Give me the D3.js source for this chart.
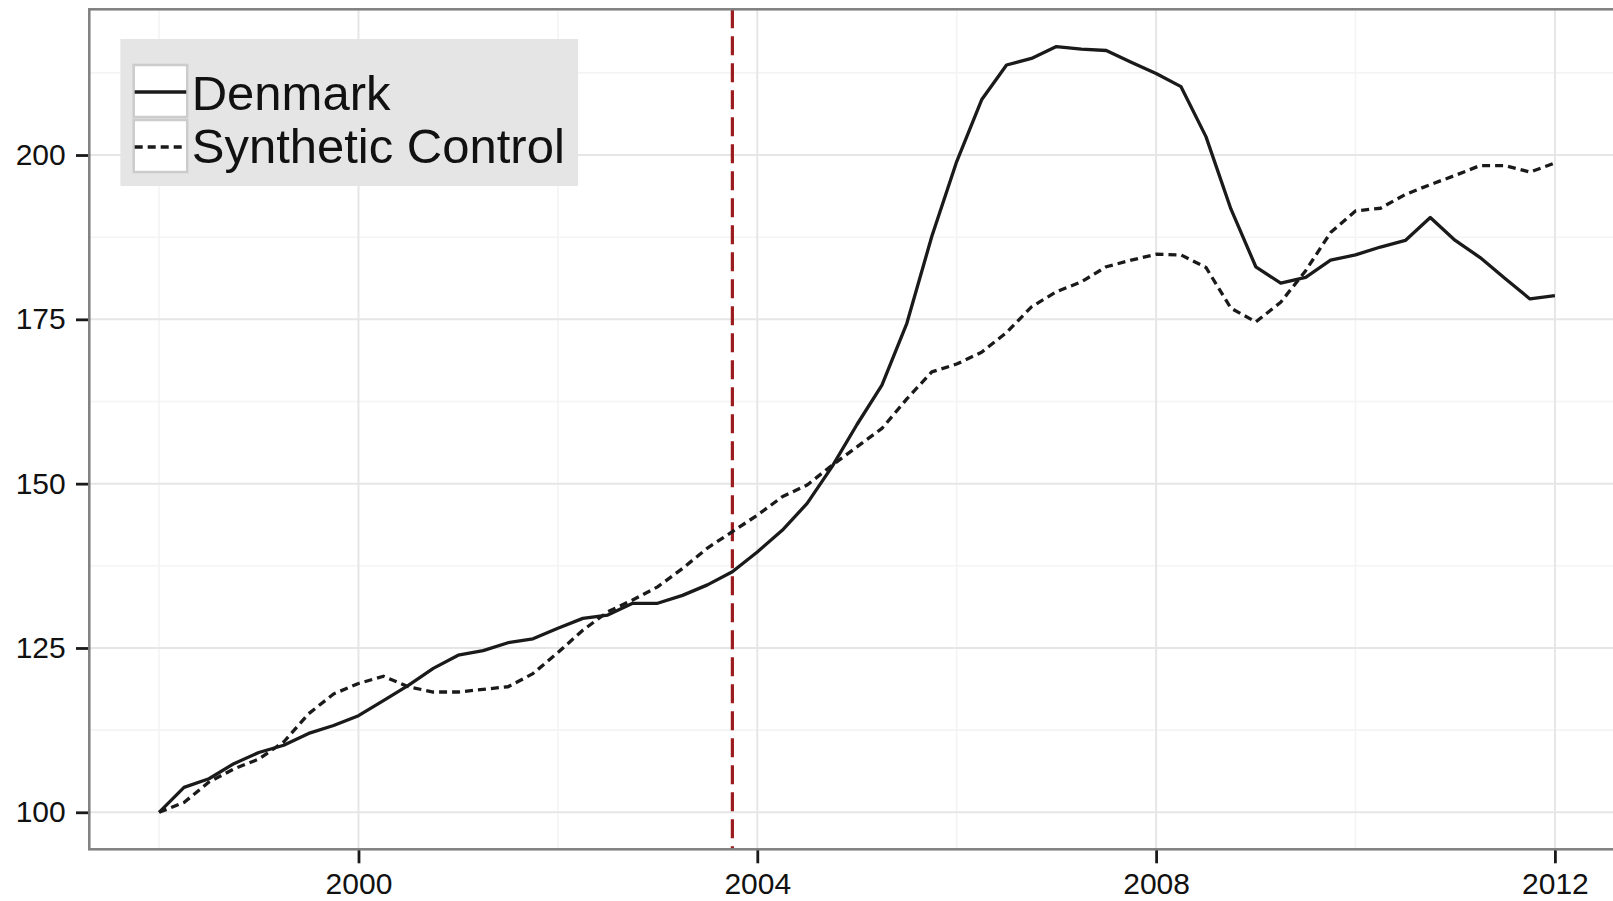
<!DOCTYPE html>
<html>
<head>
<meta charset="utf-8">
<script src="https://cdn.jsdelivr.net/npm/d3@7"></script>
<style>
  html, body { margin: 0; padding: 0; background: #fff; }
  text { font-family: "Liberation Sans", Arial, sans-serif; }
</style>
</head>
<body>
<div id="chart"></div>
<script>
// --------------------------------------
//  Data
// --------------------------------------

const quarters = [
  "1998Q1","1998Q2","1998Q3","1998Q4","1999Q1","1999Q2","1999Q3","1999Q4",
  "2000Q1","2000Q2","2000Q3","2000Q4","2001Q1","2001Q2","2001Q3","2001Q4",
  "2002Q1","2002Q2","2002Q3","2002Q4","2003Q1","2003Q2","2003Q3","2003Q4",
  "2004Q1","2004Q2","2004Q3","2004Q4","2005Q1","2005Q2","2005Q3","2005Q4",
  "2006Q1","2006Q2","2006Q3","2006Q4","2007Q1","2007Q2","2007Q3","2007Q4",
  "2008Q1","2008Q2","2008Q3","2008Q4","2009Q1","2009Q2","2009Q3","2009Q4",
  "2010Q1","2010Q2","2010Q3","2010Q4","2011Q1","2011Q2","2011Q3","2011Q4",
  "2012Q1"
];

const denmark = [
  100.0, 103.8, 105.1, 107.4, 109.1, 110.2, 112.0, 113.2,
  114.7, 117.0, 119.3, 121.9, 123.9, 124.6, 125.8, 126.4,
  128.0, 129.5, 130.0, 131.8, 131.8, 133.0, 134.6, 136.6,
  139.6, 142.9, 147.0, 152.6, 159.0, 165.0, 174.4, 187.6,
  199.0, 208.4, 213.7, 214.7, 216.5, 216.1, 215.9, 214.1,
  212.4, 210.4, 202.8, 191.8, 183.0, 180.5, 181.4, 184.0,
  184.8, 186.0, 187.0, 190.5, 187.0, 184.4, 181.2, 178.1,
  178.6
];

const synthetic = [
  100.0, 101.5, 104.6, 106.6, 108.1, 110.7, 115.0, 118.0,
  119.6, 120.7, 119.1, 118.3, 118.3, 118.7, 119.1, 121.1,
  124.3, 127.7, 130.5, 132.3, 134.3, 137.1, 140.2, 142.7,
  145.2, 148.0, 149.8, 152.8, 155.6, 158.4, 162.9, 167.0,
  168.2, 170.0, 173.0, 176.9, 179.2, 180.7, 183.0, 184.0,
  184.9, 184.8, 182.9, 176.7, 174.6, 177.6, 182.4, 188.2,
  191.5, 191.9, 194.0, 195.5, 196.9, 198.4, 198.4, 197.4,
  198.8
];

const seriesNames = ["Denmark", "Synthetic Control"];
const treatmentQuarter = "2003Q4";

const xTicks = [2000, 2004, 2008, 2012];
const xMinor = [1998, 2002, 2006, 2010];
const yTicks = [100, 125, 150, 175, 200];
const yMinor = [112.5, 137.5, 162.5, 187.5, 212.5];

// quarter label -> decimal year
const toYear = q => +q.slice(0, 4) + (+q.slice(5) - 1) / 4;

// --------------------------------------
//  Margin and canvas
// --------------------------------------

const width = 1613;
const height = 901;
const margin = {top: 9.3, left: 89.3};
const innerwidth = 1535.4;
const innerheight = 840;

const svg = d3.select("#chart")
  .append("svg")
    .attr("width", width)
    .attr("height", height)
    .attr("viewBox", `0, 0, ${width}, ${height}`);

const innerChart = svg
  .append("g")
    .attr("transform", `translate(${margin.left}, ${margin.top})`);

// --------------------------------------
//  Scales
// --------------------------------------

const x = d3.scaleLinear()
    .domain([1997.3, 2012.7])
    .range([0, innerwidth]);

const y = d3.scaleLinear()
    .domain([94.37, 222.17])
    .range([innerheight, 0]);

// --------------------------------------
//  Grid
// --------------------------------------

innerChart.append("rect")
    .attr("width", innerwidth)
    .attr("height", innerheight)
    .attr("fill", "#ffffff");

innerChart.selectAll(".minor-x")
  .data(xMinor)
  .join("line")
    .attr("x1", d => x(d)).attr("x2", d => x(d))
    .attr("y1", 0).attr("y2", innerheight)
    .attr("stroke", "#f4f4f4")
    .attr("stroke-width", 1.6);

innerChart.selectAll(".minor-y")
  .data(yMinor)
  .join("line")
    .attr("x1", 0).attr("x2", innerwidth)
    .attr("y1", d => y(d)).attr("y2", d => y(d))
    .attr("stroke", "#f4f4f4")
    .attr("stroke-width", 1.6);

innerChart.selectAll(".major-x")
  .data(xTicks)
  .join("line")
    .attr("x1", d => x(d)).attr("x2", d => x(d))
    .attr("y1", 0).attr("y2", innerheight)
    .attr("stroke", "#e6e6e6")
    .attr("stroke-width", 2);

innerChart.selectAll(".major-y")
  .data(yTicks)
  .join("line")
    .attr("x1", 0).attr("x2", innerwidth)
    .attr("y1", d => y(d)).attr("y2", d => y(d))
    .attr("stroke", "#e6e6e6")
    .attr("stroke-width", 2);

// --------------------------------------
//  Data drawing
// --------------------------------------

const line = d3.line()
    .x(d => x(toYear(d.q)))
    .y(d => y(d.v));

const denmarkData = quarters.map((q, i) => ({q: q, v: denmark[i]}));
const syntheticData = quarters.map((q, i) => ({q: q, v: synthetic[i]}));

innerChart.append("line")
    .attr("x1", x(toYear(treatmentQuarter)))
    .attr("x2", x(toYear(treatmentQuarter)))
    .attr("y1", 0)
    .attr("y2", innerheight)
    .attr("stroke", "#9b1b1f")
    .attr("stroke-width", 3.2)
    .attr("stroke-dasharray", "19,8");

innerChart.append("path")
    .datum(syntheticData)
    .attr("d", line)
    .attr("fill", "none")
    .attr("stroke", "#1a1a1a")
    .attr("stroke-width", 3.3)
    .attr("stroke-linejoin", "round")
    .attr("stroke-dasharray", "8,5");

innerChart.append("path")
    .datum(denmarkData)
    .attr("d", line)
    .attr("fill", "none")
    .attr("stroke", "#1a1a1a")
    .attr("stroke-width", 3.3)
    .attr("stroke-linejoin", "round");

// --------------------------------------
//  Axes
// --------------------------------------

const xAxis = innerChart.append("g")
    .attr("transform", `translate(0, ${innerheight})`)
    .call(d3.axisBottom(x)
        .tickValues(xTicks)
        .tickSize(14)
        .tickPadding(9.5)
        .tickFormat(d3.format("d")));

const yAxis = innerChart.append("g")
    .call(d3.axisLeft(y)
        .tickValues(yTicks)
        .tickSize(13.3)
        .tickPadding(10.3)
        .tickFormat(d3.format("d")));

[xAxis, yAxis].forEach(a => {
  a.select(".domain").remove();
  a.selectAll(".tick line")
      .attr("stroke", "#1a1a1a")
      .attr("stroke-width", 2.8);
  a.selectAll(".tick text")
      .attr("fill", "#111")
      .style("font-size", "30px")
      .style("font-family", "'Liberation Sans', Arial, sans-serif");
});

// panel border
innerChart.append("rect")
    .attr("width", innerwidth)
    .attr("height", innerheight)
    .attr("fill", "none")
    .attr("stroke", "#7f7f7f")
    .attr("stroke-width", 2.5);

// --------------------------------------
//  Legend
// --------------------------------------

const legend = svg.append("g");

legend.append("rect")
    .attr("x", 120.4)
    .attr("y", 39)
    .attr("width", 457.7)
    .attr("height", 147)
    .attr("fill", "#e5e5e5");

const keys = legend.selectAll(".key")
  .data(seriesNames)
  .join("g")
    .attr("transform", (d, i) => `translate(133.7, ${65 + i * 55})`);

keys.append("rect")
    .attr("width", 53.5)
    .attr("height", 52)
    .attr("fill", "#ffffff")
    .attr("stroke", "#cccccc")
    .attr("stroke-width", 2.5);

keys.append("line")
    .attr("x1", 1).attr("x2", 52.5)
    .attr("y1", 27).attr("y2", 27)
    .attr("stroke", "#1a1a1a")
    .attr("stroke-width", 3.3)
    .attr("stroke-dasharray", (d, i) => i === 0 ? null : "8,5");

keys.append("text")
    .attr("x", 58)
    .attr("y", (d, i) => i === 0 ? 45 : 42.5)
    .attr("fill", "#111")
    .style("font-size", "49px")
    .text(d => d);
</script>
</body>
</html>
